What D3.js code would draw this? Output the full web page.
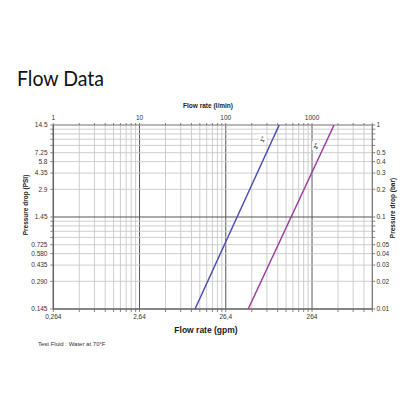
<!DOCTYPE html>
<html><head><meta charset="utf-8">
<script src="https://cdn.jsdelivr.net/npm/d3@7"></script>
<style>html,body{margin:0;padding:0;background:#fff;}svg{display:block;}</style>
</head><body>
<svg id="c" width="410" height="410"></svg>
<script>
// ---- data ----
const topTicks = [1, 10, 100, 1000];                 // l/min
const bottomLabels = ["0,264", "2,64", "26,4", "264"]; // gpm at same positions
const barTicks = [1, 0.5, 0.4, 0.3, 0.2, 0.1, 0.05, 0.04, 0.03, 0.02, 0.01];
const psiLabels = ["14.5", "7.25", "5.8", "4.35", "2.9", "1.45", "0.725", "0.580", "0.435", "0.290", "0.145"];
const seriesNames = ['1"', '2"'];
const seriesFlow = [[44, 416], [182, 1800]];        // l/min
const seriesBar = [[0.01, 1], [0.01, 1]];           // bar
const labelAt = [0.70, 0.59];                       // bar value where the series label sits
const colors = ["#4b4fb3", "#9a3f9c"];

const svg = d3.select("#c");
const L = 53.3, R = 372.3, T = 125, B = 309;
const x = d3.scaleLog().domain([1, 5000]).range([L, R]);
const y = d3.scaleLog().domain([0.01, 1]).range([B, T]);

// title
svg.append("text").attr("x", 17).attr("y", 86).text("Flow Data")
  .attr("font-family", "Lato, 'Open Sans', sans-serif").attr("font-size", 21).attr("fill", "#111")
  .attr("textLength", 87).attr("lengthAdjust", "spacingAndGlyphs");

// gridlines
const xGrid = [];
for (let d = 0; d <= 3; d++) for (let k = 1; k <= 9; k++) { const v = k * Math.pow(10, d); if (v <= 5000) xGrid.push(v); }
const yGrid = [];
for (let d = -2; d <= -1; d++) for (let k = 1; k <= 9; k++) yGrid.push(k * Math.pow(10, d));
yGrid.push(1);

const g = svg.append("g");
g.selectAll(".vx").data(xGrid).join("line")
  .attr("x1", d => x(d)).attr("x2", d => x(d)).attr("y1", T).attr("y2", B)
  .attr("stroke", d => (d === 10 || d === 100 || d === 1000) ? "#555" : "#c8c8c8")
  .attr("stroke-width", d => (d === 10 || d === 100 || d === 1000) ? 1 : 0.9);
g.selectAll(".hy").data(yGrid).join("line")
  .attr("x1", L).attr("x2", R).attr("y1", d => y(d)).attr("y2", d => y(d))
  .attr("stroke", d => Math.abs(d - 0.1) < 1e-9 ? "#555" : "#c8c8c8")
  .attr("stroke-width", d => Math.abs(d - 0.1) < 1e-9 ? 1 : 0.9);

// frame
svg.append("line").attr("x1", L).attr("x2", R).attr("y1", T).attr("y2", T).attr("stroke", "#888");
svg.append("line").attr("x1", L).attr("x2", R).attr("y1", B).attr("y2", B).attr("stroke", "#666").attr("stroke-width", 1.5);
svg.append("line").attr("x1", L).attr("x2", L).attr("y1", T).attr("y2", B).attr("stroke", "#666").attr("stroke-width", 1.5);
svg.append("line").attr("x1", R).attr("x2", R).attr("y1", T).attr("y2", B).attr("stroke", "#777").attr("stroke-width", 1.2);

// tick marks
const tk = svg.append("g").attr("stroke", "#666").attr("stroke-width", 0.8);
tk.selectAll(".bt").data(xGrid).join("line").attr("x1", d => x(d)).attr("x2", d => x(d)).attr("y1", B).attr("y2", B + 3);
tk.selectAll(".tt").data(xGrid).join("line").attr("x1", d => x(d)).attr("x2", d => x(d)).attr("y1", T).attr("y2", T - 2);
tk.selectAll(".lt").data(yGrid).join("line").attr("x1", L - 3).attr("x2", L).attr("y1", d => y(d)).attr("y2", d => y(d));
tk.selectAll(".rt").data(yGrid).join("line").attr("x1", R).attr("x2", R + 3).attr("y1", d => y(d)).attr("y2", d => y(d));

const font = "Liberation Sans, Arial, sans-serif";
// top labels
svg.selectAll(".tl").data(topTicks).join("text")
  .attr("x", d => x(d)).attr("y", 120).attr("text-anchor", "middle")
  .attr("font-family", font).attr("font-size", 6.5).attr("fill", "#333").text(d => d);
// bottom labels
svg.selectAll(".bl").data(topTicks).join("text")
  .attr("x", d => x(d)).attr("y", 318.5).attr("text-anchor", "middle")
  .attr("font-family", font).attr("font-size", 6.5).attr("fill", "#333").text((d, i) => bottomLabels[i]);
// left labels
svg.selectAll(".ll").data(barTicks).join("text")
  .attr("x", 47.5).attr("y", d => y(d) + 2.2).attr("text-anchor", "end")
  .attr("font-family", font).attr("font-size", 6.5).attr("fill", "#333").text((d, i) => psiLabels[i]);
// right labels
svg.selectAll(".rl").data(barTicks).join("text")
  .attr("x", 376.5).attr("y", d => y(d) + 2.2).attr("text-anchor", "start")
  .attr("font-family", font).attr("font-size", 6.5).attr("fill", "#333").text(d => d);

// axis titles
svg.append("text").attr("x", 208).attr("y", 107.5).attr("text-anchor", "middle")
  .attr("font-family", font).attr("font-weight", "bold").attr("font-size", 6.5).attr("fill", "#222").text("Flow rate (l/min)");
svg.append("text").attr("x", 206).attr("y", 333).attr("text-anchor", "middle")
  .attr("font-family", font).attr("font-weight", "bold").attr("font-size", 8.5).attr("fill", "#222").text("Flow rate (gpm)");
svg.append("text").attr("transform", "translate(28,205) rotate(-90)").attr("text-anchor", "middle")
  .attr("font-family", font).attr("font-weight", "bold").attr("font-size", 6.5).attr("fill", "#222").text("Pressure drop (PSI)");
svg.append("text").attr("transform", "translate(395,208) rotate(-90)").attr("text-anchor", "middle")
  .attr("font-family", font).attr("font-weight", "bold").attr("font-size", 6.5).attr("fill", "#222").text("Pressure drop (bar)");
svg.append("text").attr("x", 38).attr("y", 346).attr("font-family", font).attr("font-size", 6).attr("fill", "#333")
  .text("Test Fluid : Water at 70°F");

// series
const line = d3.line().x(d => x(d[0])).y(d => y(d[1]));
seriesFlow.forEach((f, i) => {
  const pts = f.map((q, j) => [q, seriesBar[i][j]]);
  svg.append("path").attr("d", line(pts)).attr("fill", "none").attr("stroke", colors[i]).attr("stroke-width", 1.5);
  // label position along the line
  const t = (Math.log10(labelAt[i]) - Math.log10(seriesBar[i][0])) / (Math.log10(seriesBar[i][1]) - Math.log10(seriesBar[i][0]));
  const lq = Math.pow(10, Math.log10(f[0]) + t * (Math.log10(f[1]) - Math.log10(f[0])));
  const lx = x(lq) - (i === 0 ? 10 : 8), ly = y(labelAt[i]);
  svg.append("rect").attr("x", lx - 4).attr("y", ly - 5).attr("width", 8).attr("height", 9).attr("fill", "#fff");
  svg.append("text").attr("transform", `translate(${lx},${ly}) rotate(-65)`).attr("text-anchor", "middle").attr("dy", 2)
    .attr("font-family", font).attr("font-size", 5.5).attr("font-weight", "bold").attr("fill", "#333").text(seriesNames[i]);
});
</script>
</body></html>
